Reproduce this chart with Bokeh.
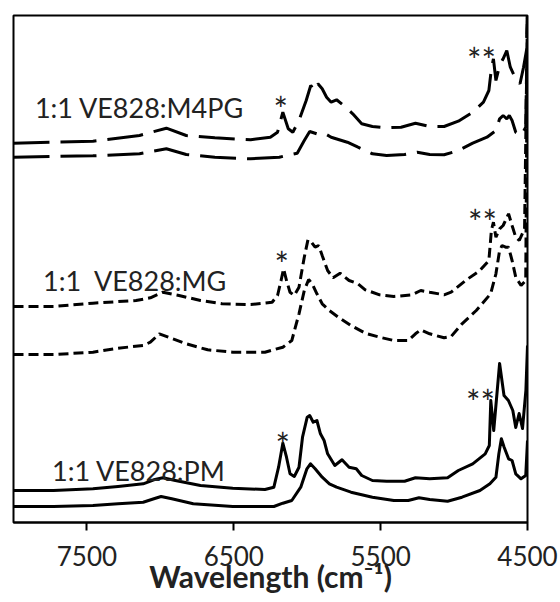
from bokeh.plotting import figure
from bokeh.models import Range1d, FixedTicker, Label
from bokeh.embed import file_html
from bokeh.resources import INLINE

# ---- data (wavenumber in cm-1, offset absorbance in a.u.) ----
tick_values = [7500, 6500, 5500, 4500]

m4pg_mix_wn = [8000, 7459, 7142, 6959, 6824, 6629, 6385, 6251, 6202, 6166, 6129, 6098, 6056, 6007,
               5976, 5951, 5927, 5898, 5868, 5837, 5800, 5751, 5690, 5629, 5556, 5459, 5361, 5263,
               5166, 5068, 4971, 4873, 4800, 4763, 4746, 4732, 4715, 4690, 4666, 4641, 4617, 4580,
               4551, 4527, 4507, 4500]
m4pg_mix_abs = [3.793, 3.813, 3.87, 3.943, 3.87, 3.847, 3.827, 3.853, 3.903, 4.103, 3.937, 3.903,
                4.02, 4.22, 4.37, 4.32, 4.387, 4.337, 4.253, 4.203, 4.227, 4.17, 4.087, 3.987,
                3.96, 3.947, 3.953, 3.993, 3.96, 3.96, 4.013, 4.103, 4.203, 4.32, 4.537, 4.637,
                4.42, 4.57, 4.637, 4.72, 4.553, 4.437, 4.387, 4.553, 4.72, 5.12]

m4pg_ref_wn = [8000, 7459, 7142, 6959, 6824, 6629, 6385, 6190, 6068, 6020, 5983, 5934, 5885, 5837,
               5727, 5654, 5556, 5459, 5337, 5251, 5166, 5068, 4971, 4873, 4776, 4715, 4690, 4666,
               4641, 4624, 4605, 4580, 4544, 4512, 4500]
m4pg_ref_abs = [3.653, 3.667, 3.687, 3.737, 3.68, 3.653, 3.637, 3.653, 3.693, 3.82, 3.91, 3.887,
                3.893, 3.853, 3.803, 3.753, 3.687, 3.67, 3.68, 3.703, 3.68, 3.677, 3.72, 3.793,
                3.853, 3.92, 4.037, 4.07, 4.037, 4.07, 4.02, 3.903, 3.87, 3.953, 5.12]

mg_mix_wn = [8000, 7727, 7459, 7166, 7068, 6983, 6873, 6727, 6580, 6385, 6239, 6202, 6178, 6161,
             6141, 6117, 6088, 6056, 6020, 5995, 5971, 5946, 5922, 5898, 5861, 5824, 5776, 5715,
             5654, 5605, 5507, 5410, 5288, 5227, 5166, 5068, 5020, 4922, 4824, 4763, 4746, 4732,
             4715, 4690, 4666, 4629, 4605, 4580, 4556, 4520, 4500]
mg_mix_abs = [2.16, 2.16, 2.193, 2.22, 2.247, 2.303, 2.27, 2.22, 2.187, 2.18, 2.203, 2.27, 2.42,
              2.537, 2.42, 2.303, 2.27, 2.353, 2.653, 2.827, 2.803, 2.753, 2.77, 2.67, 2.52,
              2.447, 2.493, 2.42, 2.387, 2.327, 2.277, 2.26, 2.277, 2.32, 2.303, 2.277, 2.303,
              2.42, 2.52, 2.62, 2.92, 3.003, 2.853, 2.937, 2.97, 3.087, 2.97, 2.853, 2.82,
              2.937, 5.12]

mg_ref_wn = [8000, 7727, 7459, 7288, 7117, 7068, 7007, 6946, 6824, 6678, 6507, 6288, 6166, 6105,
             6056, 6020, 5990, 5966, 5934, 5898, 5849, 5788, 5702, 5605, 5507, 5410, 5312, 5263,
             5227, 5166, 5068, 5020, 4946, 4849, 4751, 4715, 4690, 4673, 4649, 4629, 4605, 4580,
             4544, 4512, 4500]
mg_ref_abs = [1.68, 1.68, 1.703, 1.743, 1.77, 1.803, 1.887, 1.853, 1.787, 1.727, 1.703, 1.703,
              1.753, 1.82, 2.087, 2.32, 2.43, 2.387, 2.287, 2.187, 2.12, 2.053, 1.97, 1.893,
              1.853, 1.82, 1.82, 1.887, 1.927, 1.887, 1.847, 1.86, 1.987, 2.12, 2.287, 2.487,
              2.72, 2.77, 2.753, 2.753, 2.62, 2.453, 2.37, 2.42, 5.12]

pm_mix_wn = [8000, 7727, 7459, 7288, 7117, 7044, 6983, 6898, 6727, 6507, 6288, 6227, 6195, 6166,
             6141, 6117, 6088, 6056, 6032, 6000, 5983, 5959, 5934, 5910, 5885, 5861, 5812, 5763,
             5715, 5666, 5629, 5556, 5459, 5337, 5263, 5166, 5044, 4971, 4873, 4788, 4760, 4750,
             4730, 4690, 4660, 4630, 4600, 4580, 4557, 4534, 4511, 4500]
pm_mix_abs = [0.32, 0.32, 0.337, 0.36, 0.387, 0.427, 0.447, 0.42, 0.37, 0.343, 0.33, 0.353, 0.553,
              0.793, 0.653, 0.487, 0.46, 0.553, 0.853, 1.053, 1.07, 1.003, 1.02, 0.887, 0.82,
              0.687, 0.57, 0.627, 0.553, 0.537, 0.47, 0.42, 0.413, 0.413, 0.447, 0.437, 0.447,
              0.52, 0.587, 0.687, 0.77, 1.22, 0.92, 1.59, 1.27, 1.22, 1.12, 0.95, 1.09, 0.94,
              1.32, 1.77]

pm_ref_wn = [8000, 7727, 7459, 7288, 7117, 7044, 6995, 6922, 6776, 6507, 6227, 6166, 6105, 6044,
             6002, 5978, 5946, 5898, 5849, 5800, 5702, 5556, 5410, 5312, 5239, 5166, 5044, 4946,
             4824, 4756, 4715, 4695, 4678, 4659, 4629, 4605, 4580, 4544, 4512, 4500]
pm_ref_abs = [0.16, 0.16, 0.17, 0.187, 0.203, 0.237, 0.26, 0.237, 0.187, 0.16, 0.16, 0.193, 0.22,
              0.353, 0.537, 0.587, 0.537, 0.453, 0.387, 0.353, 0.303, 0.253, 0.22, 0.22, 0.247,
              0.23, 0.213, 0.253, 0.32, 0.387, 0.453, 0.687, 0.837, 0.753, 0.637, 0.62, 0.487,
              0.437, 0.47, 0.82]

sample_names = ["1:1 VE828:M4PG", "1:1\u00a0 VE828:MG", "1:1 VE828:PM"]
name_wn = [7854, 7799, 7738]
name_abs = [4.15, 2.42, 0.52]

star_text = ["*", "**", "*", "**", "*", "**"]
star_wn = [6180, 4813, 6173, 4806, 6167, 4820]
star_abs = [4.14, 4.63, 2.59, 3.01, 0.78, 1.21]

x_title = "Wavelength (cm\u207b\u00b9)"

# ---- figure ----
p = figure(width=560, height=602, output_backend="svg", toolbar_location=None,
           x_range=Range1d(8000, 4500), y_range=Range1d(0, 5.07),
           min_border_left=13, min_border_right=33, min_border_top=15, min_border_bottom=80)
p.background_fill_color = "white"
p.border_fill_color = "white"
p.grid.visible = False
p.yaxis.visible = False
p.outline_line_color = "black"
p.outline_line_width = 2
p.outline_line_alpha = 1.0

ax = p.xaxis[0]
ax.ticker = FixedTicker(ticks=tick_values)
ax.minor_tick_line_color = None
ax.major_tick_in = 0
ax.major_tick_out = 8
ax.major_tick_line_width = 2
ax.axis_line_width = 2
ax.major_label_text_font = "Lato"
ax.major_label_text_font_size = "26px"
ax.major_label_text_color = "#222222"
ax.major_label_standoff = 15
ax.axis_label = x_title
ax.axis_label_text_font = "Lato"
ax.axis_label_text_font_style = "bold"
ax.axis_label_text_font_size = "30px"
ax.axis_label_text_color = "#222222"
ax.axis_label_standoff = -11

long_dash = "36 11"
short_dash = "10 5"
p.line(m4pg_mix_wn, m4pg_mix_abs, line_color="black", line_width=3, line_dash=long_dash)
p.line(m4pg_ref_wn, m4pg_ref_abs, line_color="black", line_width=3, line_dash=long_dash)
p.line(mg_mix_wn, mg_mix_abs, line_color="black", line_width=3, line_dash=short_dash)
p.line(mg_ref_wn, mg_ref_abs, line_color="black", line_width=3, line_dash=short_dash)
p.line(pm_mix_wn, pm_mix_abs, line_color="black", line_width=3, line_join="round")
p.line(pm_ref_wn, pm_ref_abs, line_color="black", line_width=3, line_join="round")

for t, xw, ya in zip(sample_names, name_wn, name_abs):
    p.add_layout(Label(x=xw, y=ya, text=t, text_font="Lato", text_font_size="27px",
                       text_color="#222222", text_align="left", text_baseline="alphabetic"))

for t, xw, ya in zip(star_text, star_wn, star_abs):
    p.add_layout(Label(x=xw, y=ya, text=t, text_font="Lato", text_font_size="34px",
                       text_color="#222222", text_align="center", text_baseline="alphabetic"))

open("out.html", "w").write(file_html(p, INLINE))
